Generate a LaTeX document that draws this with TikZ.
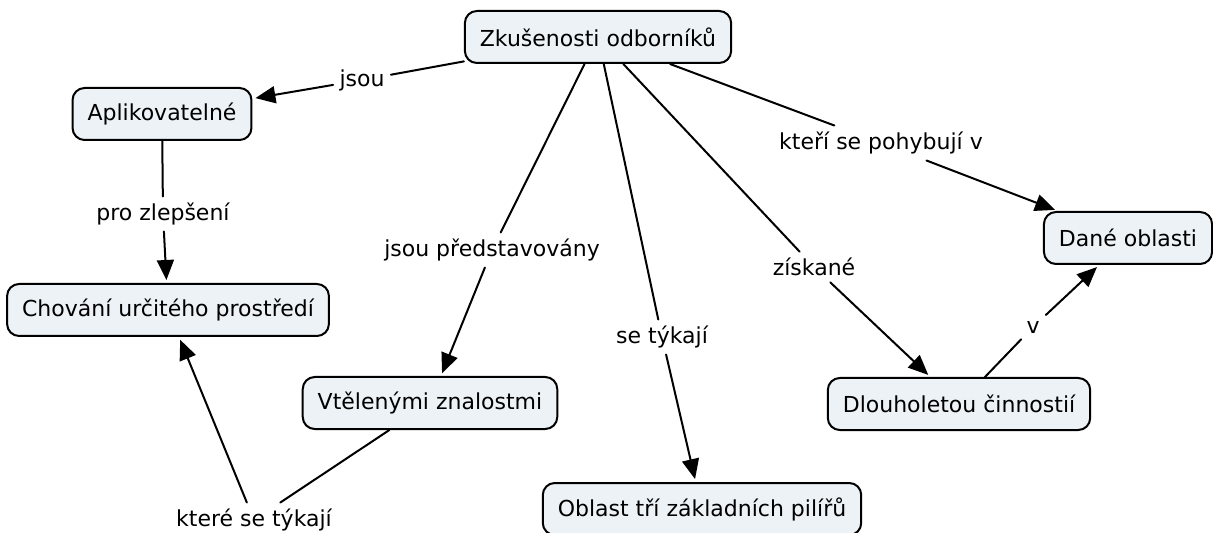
\documentclass[tikz,border=0pt]{standalone}
\usepackage{fontspec}
\setmainfont{DejaVu Sans}
\usetikzlibrary{arrows.meta}
\definecolor{conceptfill}{RGB}{236,242,246}

\begin{document}
\begin{tikzpicture}[x=0.5pt, y=-0.5pt, line cap=round, line join=round,
	font=\fontsize{11}{13}\selectfont,
	concept/.style={draw, line width=1pt, rounded corners=6pt, fill=conceptfill, minimum height=26pt, inner xsep=7.5pt},
	link/.style={inner sep=3pt},
	ln/.style={line width=1pt},
	arr/.style={ln, -{Triangle[length=10pt, width=8.5pt]}, shorten >=1.5pt}]
	\useasboundingbox (0,0) rectangle (1213,533);

	\node[concept] (zkusenosti) at (598,37) {Zkušenosti odborníků};
	\node[concept] (aplik) at (162,114) {Aplikovatelné};
	\node[concept] (chovani) at (168,310) {Chování určitého prostředí};
	\node[concept] (vtelene) at (430,403) {Vtělenými znalostmi};
	\node[concept] (oblast) at (702,509) {Oblast tří základních pilířů};
	\node[concept] (dane) at (1128,238) {Dané oblasti};
	\node[concept] (cinnost) at (959,404) {Dlouholetou činnostií};

	\node[link] (jsou) at (362,80) {jsou};
	\node[link] (zlepseni) at (163,214) {pro zlepšení};
	\node[link] (predst) at (492,250) {jsou představovány};
	\node[link] (tykaji) at (662,337) {se týkají};
	\node[link] (ziskane) at (814,267) {získané};
	\node[link] (pohybuji) at (881,143) {kteří se pohybují v};
	\node[link] (vv) at (1033,327) {v};
	\node[link] (ktere) at (254,520) {které se týkají};

	\draw[ln] (zkusenosti) -- (jsou);
	\draw[arr] (jsou) -- (aplik);
	\draw[ln] (aplik) -- (zlepseni);
	\draw[arr] (zlepseni) -- (chovani);
	\draw[ln] (zkusenosti) -- (predst);
	\draw[arr] (predst) -- (vtelene);
	\draw[ln] (zkusenosti) -- (tykaji);
	\draw[arr] (tykaji) -- (oblast);
	\draw[ln] (zkusenosti) -- (ziskane);
	\draw[arr] (ziskane) -- (cinnost);
	\draw[ln] (zkusenosti) -- (pohybuji);
	\draw[arr] (pohybuji) -- (dane);
	\draw[ln] (cinnost) -- (vv);
	\draw[arr] (vv) -- (dane);
	\draw[ln] (vtelene) -- (ktere);
	\draw[arr] (ktere) -- (chovani);
\end{tikzpicture}
\end{document}
